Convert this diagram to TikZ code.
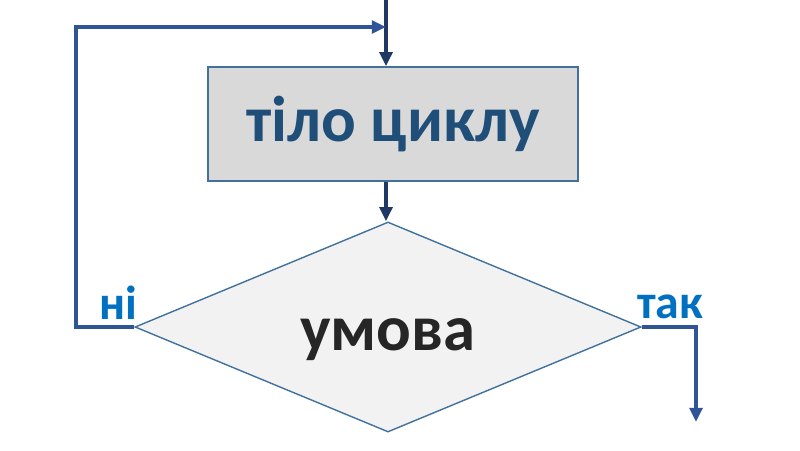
\documentclass[tikz,border=0pt]{standalone}
\usepackage{fontspec}
\setmainfont{Carlito}
\usetikzlibrary{shapes.geometric, arrows.meta}
\definecolor{edgeblue}{HTML}{41719C}
\definecolor{boxgray}{HTML}{D9D9D9}
\definecolor{condgray}{HTML}{F2F2F2}
\definecolor{bodyblue}{HTML}{1F4E79}
\definecolor{condtext}{HTML}{262626}
\definecolor{navy}{HTML}{203864}
\definecolor{midblue}{HTML}{2F5597}
\definecolor{lblblue}{HTML}{0070C0}

\begin{document}
\begin{tikzpicture}[x=0.025cm, y=0.025cm,
        block/.style = {draw=edgeblue, fill=boxgray, line width=1pt, minimum width=9.25cm, minimum height=2.85cm, text=bodyblue, font=\bfseries\fontsize{46}{52}\selectfont},
        cond/.style = {diamond, draw=edgeblue, fill=condgray, line width=1pt, inner sep=0pt, aspect=2.4, minimum width=12.65cm, minimum height=5.25cm, text=condtext, text height=34pt, text depth=0pt, font=\bfseries\fontsize{46}{52}\selectfont},
        flow/.style = {draw=navy, line width=2.5pt, -{Triangle[length=10pt, width=9pt]}},
        branch/.style = {draw=midblue, line width=2.5pt},
        lbl/.style = {text=lblblue, inner sep=0pt, anchor=base, font=\bfseries\fontsize{34}{38}\selectfont}]
        \useasboundingbox (0,0) rectangle (800,450);
        \node[block] (body) at (393,326) {тіло циклу};
        \node[cond] (cond) at (388,123) {умова};
        \coordinate (entry) at (386,450);
        \coordinate (back) at (76,423);
        \coordinate (out) at (696,28);
        \node[lbl] (no) at (118,131) {ні};
        \node[lbl] (yes) at (670,132) {так};
        \draw[flow] (entry) -- (entry |- body.north);
        \draw[flow] (body.south -| entry) -- (entry |- cond.north);
        \draw[branch, -{Triangle[length=10pt, width=9pt]}] (cond.west) -- (back |- cond.west) -- (back) -- (back -| entry);
        \draw[branch, -{Triangle[length=10pt, width=9pt]}] (cond.east) -- (out |- cond.east) -- (out);
    \end{tikzpicture}
\end{document}
